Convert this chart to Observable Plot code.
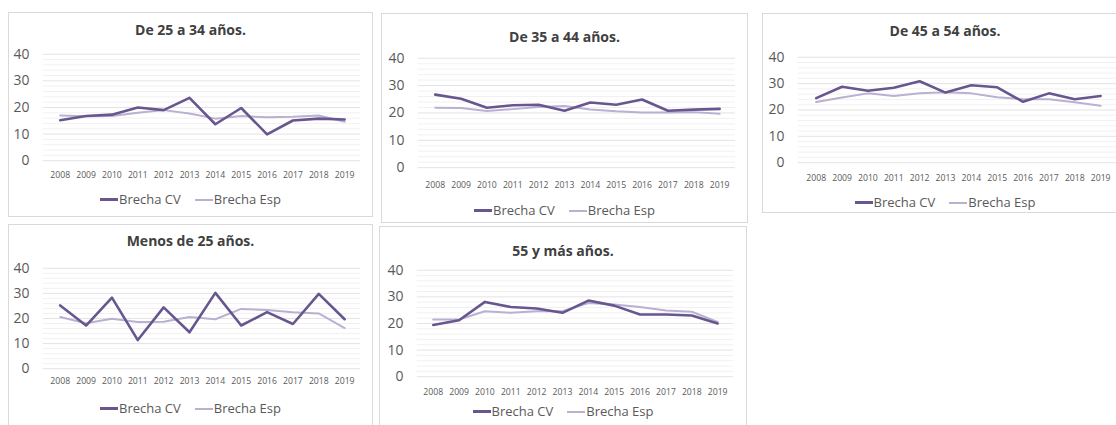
<!DOCTYPE html>
<html>
<head>
<meta charset="utf-8">
<script src="https://cdn.jsdelivr.net/npm/d3@7"></script>
<script src="https://cdn.jsdelivr.net/npm/@observablehq/plot@0.6"></script>
<style>
  html, body { margin: 0; padding: 0; background: #fff; }
  body { width: 1116px; height: 425px; overflow: hidden; position: relative; font-family: "Open Sans", "Liberation Sans", sans-serif; }
  .panel { position: absolute; border: 1px solid #d9d9d9; box-sizing: border-box; background: #fff; }
  .ptitle { position: absolute; left: 0; right: 0; text-align: center; font-weight: bold; font-size: 14px; color: #404040; line-height: 1; }
  .plegend { position: absolute; left: 0; right: 0; display: flex; justify-content: center; gap: 14px; font-size: 13px; color: #595959; line-height: 1; }
  .plegend span { display: inline-flex; align-items: center; }
  .sw { display: inline-block; width: 18px; height: 0; margin-right: 1px; }
  .abs { position: absolute; left: 0; top: 0; }
</style>
</head>
<body>
<script>
// ---- Data ----
const years = ["2008","2009","2010","2011","2012","2013","2014","2015","2016","2017","2018","2019"];
const seriesNames = ["Brecha CV", "Brecha Esp"];
const panelTitles = ["De 25 a 34 años.", "De 35 a 44 años.", "De 45 a 54 años.", "Menos de 25 años.", "55 y más años."];
const yTicks = [0, 10, 20, 30, 40];

const cv25_34  = [15.2, 16.8, 17.3, 20.0, 19.0, 23.6, 13.7, 19.8, 9.9, 15.1, 15.8, 15.5];
const esp25_34 = [17.0, 16.7, 16.8, 18.0, 19.0, 17.7, 15.8, 16.8, 16.3, 16.5, 17.0, 14.6];

const cv35_44  = [26.7, 25.2, 21.9, 22.8, 23.0, 20.8, 23.8, 23.0, 24.9, 20.8, 21.2, 21.5];
const esp35_44 = [21.9, 21.8, 20.7, 21.4, 22.2, 22.5, 21.3, 20.6, 20.2, 20.2, 20.3, 19.7];

const cv45_54  = [24.5, 28.8, 27.3, 28.4, 30.9, 26.6, 29.4, 28.6, 23.1, 26.3, 24.1, 25.3];
const esp45_54 = [23.0, 24.7, 26.3, 25.3, 26.3, 26.7, 26.3, 24.8, 24.1, 24.1, 22.9, 21.6];

const cvMenos25  = [25.2, 17.2, 28.3, 11.4, 24.4, 14.5, 30.2, 17.2, 22.5, 17.8, 29.8, 19.7];
const espMenos25 = [20.6, 18.1, 19.9, 18.6, 18.7, 20.6, 19.7, 23.8, 23.4, 22.5, 22.0, 16.2];

const cv55  = [19.4, 21.2, 28.1, 26.2, 25.6, 24.0, 28.6, 26.7, 23.4, 23.4, 23.0, 20.0];
const esp55 = [21.5, 21.5, 24.6, 24.0, 24.6, 24.6, 27.7, 27.1, 26.2, 24.9, 24.4, 20.6];

const panelCV  = [cv25_34, cv35_44, cv45_54, cvMenos25, cv55];
const panelEsp = [esp25_34, esp35_44, esp45_54, espMenos25, esp55];

// ---- Styles / layout (page coordinates) ----
const colorCV = "#68568f";
const colorEsp = "#b9b0d2";
const layout = [
  {left: 8,   top: 12,  w: 365, h: 205, titleY: 30,  y40: 54,  y0: 161, yearsY: 176, legendY: 200, gx0: 43,  gx1: 362},
  {left: 381, top: 13,  w: 367, h: 210, titleY: 37,  y40: 58,  y0: 168, yearsY: 186, legendY: 211, gx0: 418, gx1: 737},
  {left: 762, top: 13,  w: 366, h: 200, titleY: 31,  y40: 57,  y0: 163, yearsY: 179, legendY: 203, gx0: 798, gx1: 1120},
  {left: 8,   top: 224, w: 365, h: 215, titleY: 241, y40: 268, y0: 369, yearsY: 382, legendY: 409, gx0: 43,  gx1: 362},
  {left: 379, top: 226, w: 368, h: 215, titleY: 251, y40: 270, y0: 377, yearsY: 393, legendY: 412, gx0: 417, gx1: 735}
];

const minorTicks = d3.range(0, 41, 2).filter(v => v % 10 !== 0);

layout.forEach((L, i) => {
  const panel = document.createElement("div");
  panel.className = "panel";
  Object.assign(panel.style, {left: L.left + "px", top: L.top + "px", width: L.w + "px", height: L.h + "px"});
  document.body.appendChild(panel);

  const rowsEsp = years.map((yr, k) => ({year: yr, value: panelEsp[i][k], serie: seriesNames[1]}));
  const rowsCV = years.map((yr, k) => ({year: yr, value: panelCV[i][k], serie: seriesNames[0]}));

  const yearFont = 8.7;
  const chart = Plot.plot({
    width: L.w,
    height: L.h,
    marginLeft: L.gx0 - L.left,
    marginRight: (L.left + L.w) - L.gx1,
    marginTop: L.y40 - L.top,
    marginBottom: (L.top + L.h) - L.y0,
    style: {background: "transparent", color: "#595959", fontFamily: "'Open Sans', 'Liberation Sans', sans-serif", overflow: "visible"},
    x: {type: "point", domain: years, padding: 0.5, axis: null, label: null},
    y: {domain: [0, 40], axis: null, label: null},
    marks: [
      Plot.ruleY(minorTicks, {stroke: "#f1f1f1", strokeWidth: 1}),
      Plot.ruleY(yTicks, {stroke: "#e3e3e3", strokeWidth: 1}),
      Plot.axisY(yTicks, {tickSize: 0, tickPadding: 14, fontSize: 14, fill: "#595959", label: null}),
      Plot.axisX(years, {tickSize: 0, tickPadding: L.yearsY - L.y0 - yearFont * 0.45, fontSize: yearFont, fill: "#595959", label: null}),
      Plot.line(rowsEsp, {x: "year", y: "value", stroke: colorEsp, strokeWidth: 2, strokeLinejoin: "round"}),
      Plot.line(rowsCV, {x: "year", y: "value", stroke: colorCV, strokeWidth: 2.6, strokeLinejoin: "round"})
    ]
  });
  chart.classList.add("abs");
  chart.style.left = "-1px";
  chart.style.top = "-1px";
  panel.appendChild(chart);

  const title = document.createElement("div");
  title.className = "ptitle";
  title.textContent = panelTitles[i];
  title.style.top = (L.titleY - L.top - 8) + "px";
  panel.appendChild(title);

  const legend = document.createElement("div");
  legend.className = "plegend";
  legend.style.top = (L.legendY - L.top - 8) + "px";
  [[seriesNames[0], colorCV, 3], [seriesNames[1], colorEsp, 2.5]].forEach(([name, col, sw]) => {
    const s = document.createElement("span");
    const line = document.createElement("i");
    line.className = "sw";
    line.style.borderTop = sw + "px solid " + col;
    s.appendChild(line);
    s.appendChild(document.createTextNode(name));
    legend.appendChild(s);
  });
  panel.appendChild(legend);
});
</script>
</body>
</html>
